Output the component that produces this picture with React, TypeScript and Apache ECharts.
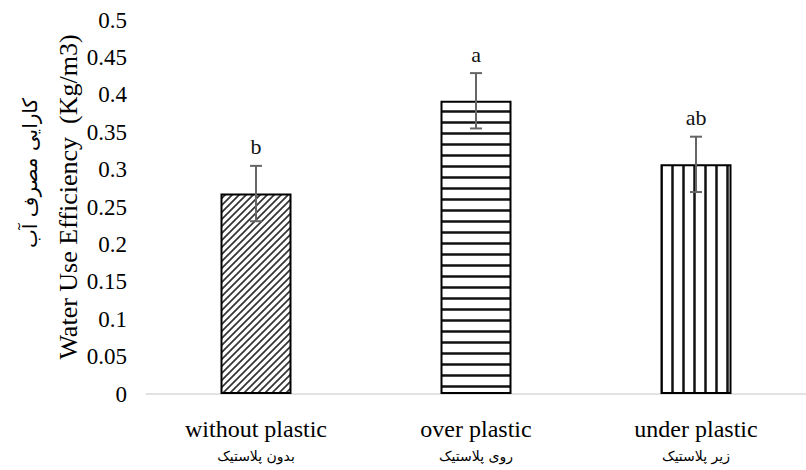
import React, { useEffect, useRef } from "react";
import * as echarts from "echarts";

const categories = ["without plastic", "over plastic", "under plastic"];
const categoriesFa = ["بدون پلاستیک", "روی پلاستیک", "زیر پلاستیک"];
const values = [0.268, 0.392, 0.307];
const errors = [0.037, 0.037, 0.037];
const letters = ["b", "a", "ab"];
const patterns = ["diag", "horiz", "vert"];
const yMin = 0;
const yMax = 0.5;
const yStep = 0.05;
const yTitleEn = "Water Use Efficiency  (Kg/m3)";
const yTitleFa = "کارایی مصرف آب";

const SERIF = "'Liberation Serif', 'Times New Roman', serif";
const ARABIC = "'DejaVu Sans', sans-serif";

function makePattern(kind: string) {
  const c = document.createElement("canvas");
  if (kind === "diag") {
    const s = 7;
    c.width = s;
    c.height = s;
    const ctx = c.getContext("2d")!;
    ctx.fillStyle = "#fff";
    ctx.fillRect(0, 0, s, s);
    ctx.strokeStyle = "#333";
    ctx.lineWidth = 1.7;
    ctx.beginPath();
    ctx.moveTo(-1, s + 1);
    ctx.lineTo(s + 1, -1);
    ctx.moveTo(-1, 1);
    ctx.lineTo(1, -1);
    ctx.moveTo(s - 1, s + 1);
    ctx.lineTo(s + 1, s - 1);
    ctx.stroke();
  } else if (kind === "horiz") {
    const s = 11;
    c.width = s;
    c.height = s;
    const ctx = c.getContext("2d")!;
    ctx.fillStyle = "#fff";
    ctx.fillRect(0, 0, s, s);
    ctx.fillStyle = "#888";
    ctx.fillRect(0, 0, s, 3);
    ctx.fillStyle = "#111";
    ctx.fillRect(0, 0.5, s, 2);
  } else {
    const s = 11;
    c.width = s;
    c.height = s;
    const ctx = c.getContext("2d")!;
    ctx.fillStyle = "#fff";
    ctx.fillRect(0, 0, s, s);
    ctx.fillStyle = "#888";
    ctx.fillRect(0, 0, 3, s);
    ctx.fillStyle = "#111";
    ctx.fillRect(0.5, 0, 2, s);
  }
  return { image: c, repeat: "repeat" } as any;
}

export default function App() {
  const ref = useRef<HTMLDivElement>(null);
  useEffect(() => {
    if (!ref.current) return;
    const chart = echarts.init(ref.current, null, { renderer: "svg" });
    const barData = values.map((v, i) => ({
      value: v,
      itemStyle: { color: makePattern(patterns[i]), borderColor: "#000", borderWidth: 2 },
    }));
    const errData = values.map((v, i) => [i, v, errors[i]]);
    chart.setOption({
      animation: false,
      grid: { left: 146, top: 20, width: 672, height: 375, containLabel: false },
      xAxis: {
        type: "category",
        data: categories,
        axisTick: { show: false },
        axisLine: { lineStyle: { color: "#d9d9d9", width: 1.5 } },
        axisLabel: {
          interval: 0,
          hideOverlap: false,
          margin: 22,
          color: "#000",
          fontFamily: SERIF,
          fontSize: 24,
          lineHeight: 26,
          formatter: (v: string, i: number) => `${v}\n{fa|${categoriesFa[i]}}`,
          rich: {
            fa: { fontFamily: ARABIC, fontSize: 14, lineHeight: 28, color: "#000" },
          },
        },
      },
      yAxis: {
        type: "value",
        min: yMin,
        max: yMax,
        interval: yStep,
        axisLine: { show: false },
        axisTick: { show: false },
        splitLine: { show: false },
        axisLabel: {
          margin: 19,
          color: "#000",
          fontFamily: SERIF,
          fontSize: 23,
          formatter: (v: number) => String(Number(v.toFixed(2))),
        },
      },
      graphic: [
        {
          type: "text",
          x: 68,
          y: 197,
          rotation: Math.PI / 2,
          style: {
            text: yTitleEn,
            fontFamily: SERIF,
            fontSize: 26,
            fill: "#000",
            align: "center",
            verticalAlign: "middle",
            textAlign: "center",
            textVerticalAlign: "middle",
          },
        },
        {
          type: "text",
          x: 30,
          y: 173,
          rotation: Math.PI / 2,
          style: {
            text: yTitleFa,
            fontFamily: ARABIC,
            fontSize: 20,
            fill: "#000",
            align: "center",
            verticalAlign: "middle",
            textAlign: "center",
            textVerticalAlign: "middle",
          },
        },
      ],
      series: [
        {
          type: "bar",
          data: barData,
          barWidth: 71,
        },
        {
          type: "custom",
          data: errData,
          z: 10,
          renderItem: (params: any, api: any) => {
            const i = api.value(0);
            const v = api.value(1);
            const e = api.value(2);
            const hi = api.coord([i, v + e]);
            const lo = api.coord([i, v - e]);
            const hw = 6;
            const st = { stroke: "#666", lineWidth: 2 };
            return {
              type: "group",
              children: [
                { type: "line", shape: { x1: hi[0], y1: hi[1], x2: lo[0], y2: lo[1] }, style: st },
                { type: "line", shape: { x1: hi[0] - hw, y1: hi[1], x2: hi[0] + hw, y2: hi[1] }, style: st },
                { type: "line", shape: { x1: lo[0] - hw, y1: lo[1], x2: lo[0] + hw, y2: lo[1] }, style: st },
                {
                  type: "text",
                  x: hi[0],
                  y: hi[1] - 19,
                  style: {
                    text: letters[params.dataIndex],
                    fontFamily: SERIF,
                    fontSize: 22,
                    fill: "#111",
                    align: "center",
                    verticalAlign: "middle",
                  },
                },
              ],
            };
          },
        },
      ],
    });
    return () => chart.dispose();
  }, []);
  return (
    <div
      ref={ref}
      style={{ position: "absolute", left: 0, top: 0, width: 806, height: 470, background: "#fff" }}
    />
  );
}
